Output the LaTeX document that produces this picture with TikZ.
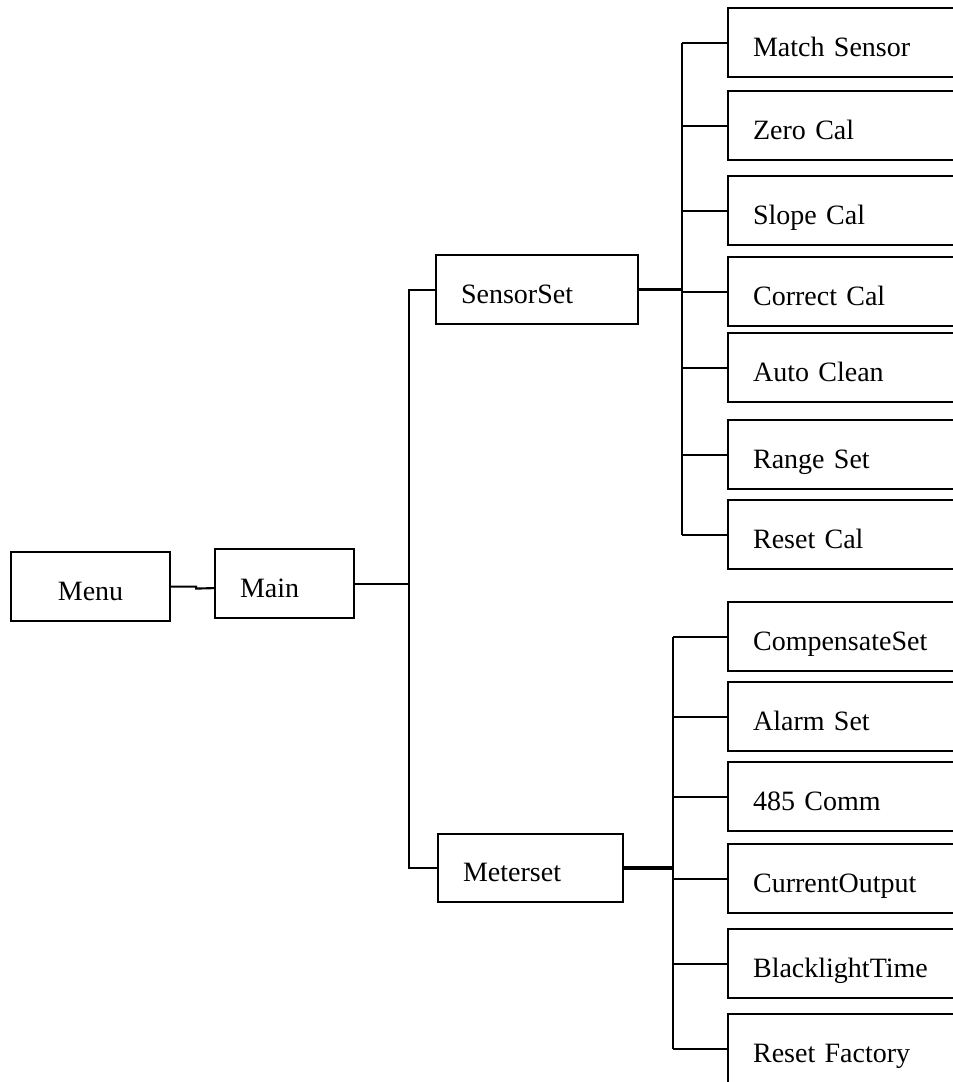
\documentclass[tikz,border=0pt]{standalone}
\usepackage{fontspec}
\setmainfont{Liberation Serif}
\begin{document}
\begin{tikzpicture}[x=0.75pt,y=-0.75pt,
  box/.style={draw, line width=1.6pt, rectangle, anchor=north west,
    inner xsep=18.75pt, inner ysep=0pt, text height=20.25pt, text depth=0pt,
    minimum height=51.75pt, align=left, font=\fontsize{21}{25}\selectfont},
  leaf/.style={box, text width=167.25pt},
  conn/.style={line width=1.6pt},
  thickconn/.style={line width=2.4pt}]
\useasboundingbox (0,0) rectangle (953,1082);
\clip (0,0) rectangle (953,1082);
\fill[white] (0,0) rectangle (953,1082);
% level nodes
\node[box, align=center, text width=81.75pt] (menu) at (10,551) {Menu};
\node[box, text width=66.75pt] (main) at (214,548) {Main};
\node[box, text width=114pt] (sensor) at (435,254) {SensorSet};
\node[box, text width=101.25pt, minimum height=51pt] (meter) at (437,833) {Meterset};
% sensor children
\node[leaf] (ms) at (727,7) {Match Sensor};
\node[leaf] (zc) at (727,90) {Zero Cal};
\node[leaf] (sc) at (727,175) {Slope Cal};
\node[leaf] (cc) at (727,256) {Correct Cal};
\node[leaf] (ac) at (727,332) {Auto Clean};
\node[leaf] (rs) at (727,419) {Range Set};
\node[leaf] (rc) at (727,499) {Reset Cal};
% meter children
\node[leaf] (cs) at (727,601) {CompensateSet};
\node[leaf] (as) at (727,681) {Alarm Set};
\node[leaf] (cm) at (727,761) {485 Comm};
\node[leaf] (co) at (727,843) {CurrentOutput};
\node[leaf] (bt) at (727,928) {BlacklightTime};
\node[leaf] (rf) at (727,1013) {Reset Factory};
% bus coordinates
\coordinate (tr) at (409,0);
\coordinate (sb) at (682,0);
\coordinate (mb) at (673,0);
% connectors
\draw[conn] (menu.east) -- ++(25,0) -- ++(0,2) -- ([yshift=-3.4pt]main.west);
\draw[conn] (main.east) -- (main.east -| tr);
\draw[conn] (sensor.west) -- (sensor.west -| tr) -- (meter.west -| tr) -- (meter.west);
\draw[thickconn] (sensor.east) -- (sensor.east -| sb);
\draw[conn] (ms.west -| sb) -- (rc.west -| sb);
\foreach \n in {ms,zc,sc,cc,ac,rs,rc} \draw[conn] (\n.west -| sb) -- (\n.west);
\draw[thickconn] (meter.east) -- (meter.east -| mb);
\draw[conn] (cs.west -| mb) -- (rf.west -| mb);
\foreach \n in {cs,as,cm,co,bt,rf} \draw[conn] (\n.west -| mb) -- (\n.west);
\end{tikzpicture}
\end{document}
